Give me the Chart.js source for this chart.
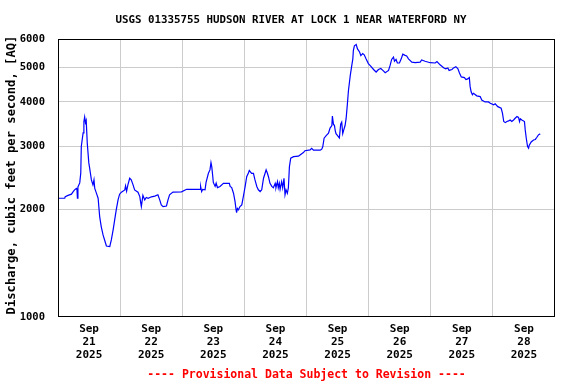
<!DOCTYPE html>
<html>
<head>
<meta charset="utf-8">
<script src="https://cdn.jsdelivr.net/npm/chart.js@4"></script>
<style>
  body { margin: 0; background: #fff; }
</style>
</head>
<body>
<canvas id="flow" width="576" height="384"></canvas>
<script>
// hours since Sep 21 2025 00:00, discharge in cfs
var hours = [0,2.6,2.8,3.9,5.2,5.8,6.4,7.1,7.3,7.5,7.7,8.4,8.8,9.0,9.7,10.0,10.3,10.6,10.9,11.3,11.9,12.2,12.9,13.5,13.9,14.2,14.8,15.5,16.1,16.7,17.4,18.0,18.7,20.0,20.6,21.3,21.9,22.5,23.2,23.8,24.5,25.8,26.1,26.5,27.0,27.7,28.3,29.0,29.6,30.9,31.6,31.9,32.2,32.8,33.5,34.1,34.8,36.1,37.4,38.6,39.3,39.9,40.6,41.9,42.5,43.1,44.4,47.7,
  49.7,54.9,55.1,55.5,55.9,56.8,57.2,58.1,58.7,59.1,59.4,59.8,60.0,60.7,61.1,61.6,62.6,63.9,66.2,66.5,67.1,67.8,68.4,68.8,69.0,69.3,69.7,70.3,71.0,71.6,72.3,72.9,73.6,73.9,74.8,75.5,76.1,76.8,77.4,78.1,78.7,79.4,80.0,80.4,80.9,81.3,81.9,82.6,83.2,83.9,84.2,84.8,85.1,85.5,85.8,86.4,86.8,87.3,87.7,88.1,88.6,89.0,89.4,89.9,91.0,92.9,93.5,94.8,95.4,
  97.4,98.0,98.7,101.3,101.9,102.3,102.8,103.6,104.5,105.1,105.8,106.0,106.4,106.8,107.1,107.4,108.0,108.7,109.2,109.6,110.0,110.5,110.9,111.3,111.8,112.2,112.9,113.5,113.9,114.1,114.5,115.2,115.7,116.5,117.0,117.7,118.3,119.0,119.9,120.8,121.9,122.9,123.8,124.7,125.5,126.4,127.7,128.3,128.9,129.6,130.0,130.6,131.1,131.9,132.6,133.2,134.1,134.7,135.4,136.7,138.0,139.9,140.5,141.8,
  143.8,145.7,146.4,147.6,149.1,149.8,150.6,151.1,152.2,152.8,153.7,154.5,155.1,155.8,157.0,157.6,158.3,158.9,159.2,159.6,160.1,160.5,161.8,163.1,163.7,165.0,166.3,167.0,168.3,168.9,169.9,171.2,171.7,172.2,172.8,173.4,174.1,174.7,175.3,176.0,176.6,177.3,177.9,178.3,178.6,179.2,180.2,180.5,180.9,181.4,181.8,182.0,182.8,183.7,184.4,185.0,185.6,186.3];
var discharge = [2150,2150,2173,2190,2207,2240,2269,2290,2294,2150,2313,2373,2531,3000,3277,3524,3631,3500,3550,3072,2700,2620,2420,2343,2420,2290,2226,2150,1910,1791,1697,1643,1580,1574,1643,1753,1869,1994,2127,2207,2236,2269,2328,2250,2343,2446,2420,2343,2269,2236,2173,2100,2037,2190,2127,2160,2150,2170,2180,2198,2127,2060,2037,2045,2127,2198,2236,2240,
  2277,2277,2320,2245,2277,2270,2380,2525,2580,2705,2636,2470,2380,2320,2370,2303,2320,2366,2366,2320,2303,2221,2104,1994,1960,2013,1994,2037,2060,2173,2320,2470,2535,2570,2525,2525,2420,2320,2270,2245,2270,2446,2525,2580,2525,2470,2366,2320,2300,2366,2300,2392,2300,2366,2277,2392,2300,2446,2198,2270,2221,2300,2636,2782,2810,2820,2842,2885,2920,
  2935,2967,2930,2930,2950,3000,3167,3220,3270,3380,3435,3650,3465,3435,3325,3260,3220,3170,3465,3510,3260,3360,3435,3590,3950,4300,4740,5060,5280,5570,5740,5790,5630,5520,5390,5460,5420,5280,5120,5040,4930,4850,4930,4960,4900,4830,4900,5060,5260,5340,5200,5260,5140,5140,5280,5440,5400,5380,5280,5170,5150,5170,5240,5200,
  5150,5140,5190,5080,4980,4950,4980,4900,4930,4980,5020,4950,4820,4700,4680,4620,4640,4680,4420,4270,4190,4230,4160,4140,4050,4000,4000,3965,3925,3950,3880,3840,3720,3525,3500,3525,3540,3560,3525,3560,3600,3640,3620,3525,3590,3560,3525,3340,3165,3000,2970,3020,3090,3130,3140,3185,3235,3255];
var dayLabels = ['21','22','23','24','25','26','27','28'];
var yTicks = [1000, 2000, 3000, 4000, 5000, 6000];

var MONO = "'DejaVu Sans Mono', monospace";

var textPlugin = {
  id: 'usgsText',
  afterDraw: function(chart) {
    var ctx = chart.ctx;
    var a = chart.chartArea;
    ctx.save();
    // plot frame
    ctx.strokeStyle = '#000';
    ctx.lineWidth = 1;
    ctx.strokeRect(a.left + 0.5, a.top + 0.5, a.right - a.left - 1, a.bottom - a.top - 1);
    ctx.textAlign = 'center';
    ctx.textBaseline = 'middle';
    ctx.fillStyle = '#000';
    ctx.font = 'bold 10.8px ' + MONO;
    ctx.fillText('USGS 01335755 HUDSON RIVER AT LOCK 1 NEAR WATERFORD NY', 291, 20);
    ctx.fillStyle = '#ff0000';
    ctx.font = 'bold 11.5px ' + MONO;
    ctx.fillText('---- Provisional Data Subject to Revision ----', (a.left + a.right) / 2, 375);
    ctx.fillStyle = '#000';
    ctx.font = 'bold 12.2px ' + MONO;
    ctx.translate(12, 175);
    ctx.rotate(-Math.PI / 2);
    ctx.fillText('Discharge, cubic feet per second, [AQ]', 0, 0);
    ctx.restore();
  }
};

var ctx = document.getElementById('flow').getContext('2d');
var chart = new Chart(ctx, {
  type: 'line',
  data: {
    datasets: [{
      data: hours.map(function(h, i) { return {x: h, y: discharge[i]}; }),
      borderColor: '#0000ff',
      borderWidth: 1.2,
      pointRadius: 0,
      tension: 0,
      fill: false
    }]
  },
  options: {
    responsive: false,
    animation: false,
    layout: { padding: { top: 39, right: 21, left: 0, bottom: 0 } },
    plugins: { legend: { display: false }, tooltip: { enabled: false } },
    scales: {
      x: {
        type: 'linear',
        min: 0,
        max: 192,
        afterBuildTicks: function(scale) {
          var t = [];
          for (var h = 0; h <= 192; h += 12) t.push({value: h});
          scale.ticks = t;
        },
        afterFit: function(scale) { scale.height = 67; },
        grid: {
          drawTicks: false,
          color: function(c) {
            var v = c.tick ? c.tick.value : 0;
            return (v % 24 === 0 && v > 0 && v < 192) ? '#cccccc' : 'rgba(0,0,0,0)';
          }
        },
        border: { display: false },
        ticks: {
          autoSkip: false,
          maxRotation: 0,
          padding: 6,
          color: '#000',
          font: { family: MONO, size: 11, weight: 'bold', lineHeight: 1.18 },
          callback: function(v) {
            if (v % 24 !== 12) return '';
            return ['Sep', dayLabels[Math.floor(v / 24)], '2025'];
          }
        }
      },
      y: {
        type: 'logarithmic',
        min: 1000,
        max: 6000,
        afterBuildTicks: function(scale) {
          scale.ticks = yTicks.map(function(v) { return {value: v}; });
        },
        afterFit: function(scale) { scale.width = 58; },
        grid: {
          drawTicks: false,
          color: function(c) {
            var v = c.tick ? c.tick.value : 0;
            return (v > 1000 && v < 6000) ? '#cccccc' : 'rgba(0,0,0,0)';
          }
        },
        border: { display: false },
        ticks: {
          padding: 13,
          color: '#000',
          font: { family: MONO, size: 10.5, weight: 'bold' },
          callback: function(v) { return String(v); }
        }
      }
    }
  },
  plugins: [textPlugin]
});
</script>
</body>
</html>
